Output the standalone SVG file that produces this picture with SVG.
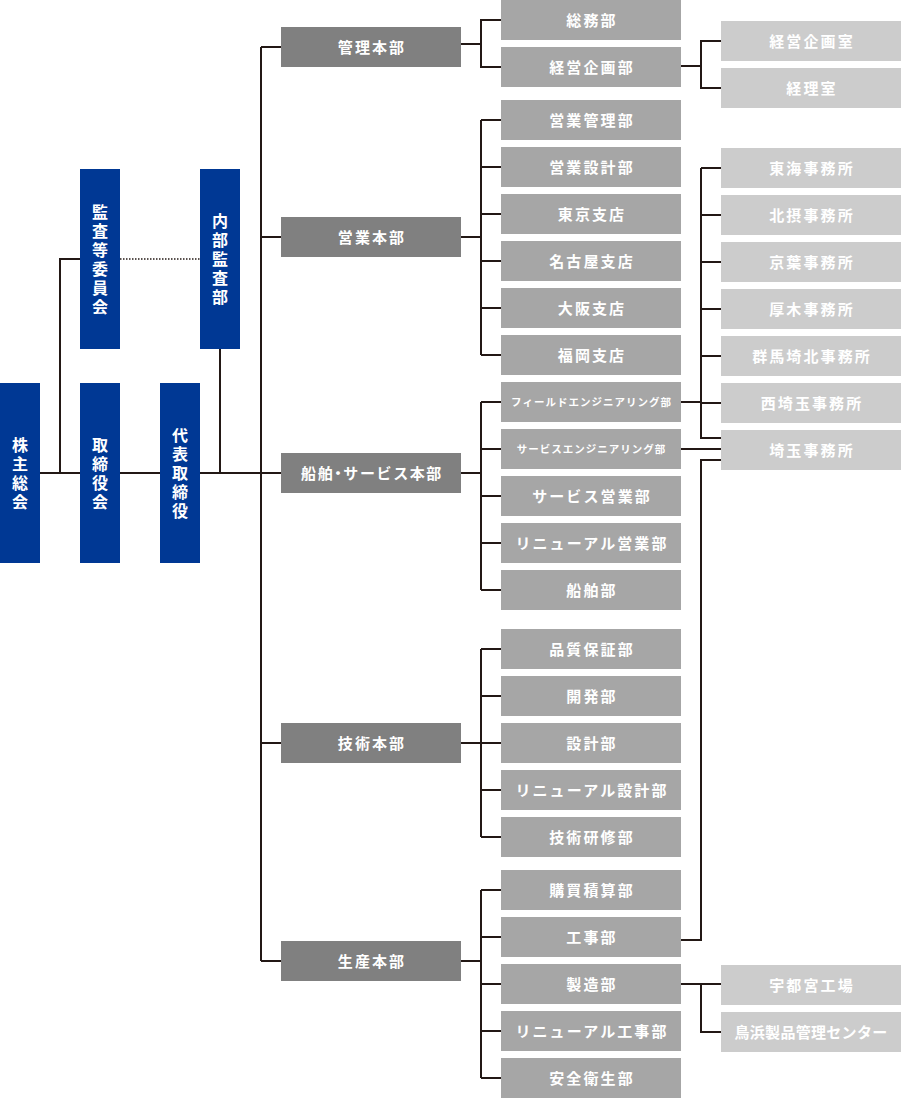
<svg xmlns="http://www.w3.org/2000/svg" width="901" height="1098" viewBox="0 0 901 1098">
<style>
.b{fill:#003894}
.g1{fill:#808080}
.g2{fill:#a6a6a6}
.g3{fill:#cccccc}
.t{fill:#fff;font-family:"Noto Sans CJK JP","Noto Sans",sans-serif;font-size:15px;font-weight:700;letter-spacing:2.1px;text-anchor:middle}
.s{font-size:10.5px;letter-spacing:1px}
.v{writing-mode:vertical-rl;font-size:16px;letter-spacing:3px}
.c{stroke:#231815;stroke-width:2;fill:none}
.d{stroke:#231815;stroke-width:1.5;stroke-dasharray:1.5 1.5;fill:none}
</style>
<g id="connectors">
<path class="c" d="M40 473H80M120 473H160M200 473H281M60 473V259H80M220 349V473"/>
<path class="d" d="M120 259H200"/>
<path class="c" d="M261 47V961M261 47H281M261 237H281M261 743H281M261 961H281"/>
<path class="c" d="M461 44H481M501 20H481V67H501"/>
<path class="c" d="M461 237H481M481 120V355M481 120H501M481 167H501M481 214H501M481 261H501M481 308H501M481 355H501"/>
<path class="c" d="M461 473H481M481 402V590M481 402H501M481 449H501M481 496H501M481 543H501M481 590H501"/>
<path class="c" d="M461 743H481M481 649V837M481 649H501M481 696H501M481 743H501M481 790H501M481 837H501"/>
<path class="c" d="M461 961H481M481 890V1078M481 890H501M481 937H501M481 984H501M481 1031H501M481 1078H501"/>
<path class="c" d="M681 66H701M721 41H701V88H721"/>
<path class="c" d="M701 168V438H721M701 168H721M701 215H721M701 262H721M701 309H721M701 356H721M701 403H721M681 402H701"/>
<path class="c" d="M681 449H721"/>
<path class="c" d="M681 940H701V460H721"/>
<path class="c" d="M681 984H721M701 984V1032H721"/>
</g>
<g id="n-kabunushi"><rect class="b" x="0" y="383" width="40" height="180"/><text class="t v" x="20" y="474.5">株主総会</text></g>
<g id="n-torishimariyakukai"><rect class="b" x="80" y="383" width="40" height="180"/><text class="t v" x="100" y="474.5">取締役会</text></g>
<g id="n-daihyo"><rect class="b" x="160" y="383" width="40" height="180"/><text class="t v" x="180" y="474.5">代表取締役</text></g>
<g id="n-kansa"><rect class="b" x="80" y="169" width="40" height="180"/><text class="t v" x="100" y="260.5">監査等委員会</text></g>
<g id="n-naibu"><rect class="b" x="200" y="169" width="40" height="180"/><text class="t v" x="220" y="260.5">内部監査部</text></g>

<g id="n-kanri"><rect class="g1" x="281" y="27" width="180" height="40"/><text class="t" x="372" y="52.5">管理本部</text></g>
<g id="n-eigyo"><rect class="g1" x="281" y="217" width="180" height="40"/><text class="t" x="372" y="242.5">営業本部</text></g>
<g id="n-senpaku"><rect class="g1" x="281" y="453" width="180" height="40"/><text class="t" x="372" y="478.5" style="letter-spacing:1.6px">船舶<tspan style="font-feature-settings:'halt'">・</tspan>サービス本部</text></g>
<g id="n-gijutsu"><rect class="g1" x="281" y="723" width="180" height="40"/><text class="t" x="372" y="748.5">技術本部</text></g>
<g id="n-seisan"><rect class="g1" x="281" y="941" width="180" height="40"/><text class="t" x="372" y="966.5">生産本部</text></g>

<g id="n-somu"><rect class="g2" x="501" y="0" width="180" height="40"/><text class="t" x="592" y="25.5">総務部</text></g>
<g id="n-keiei"><rect class="g2" x="501" y="47" width="180" height="40"/><text class="t" x="592" y="72.5">経営企画部</text></g>
<g id="n-eigyokanri"><rect class="g2" x="501" y="100" width="180" height="40"/><text class="t" x="592" y="125.5">営業管理部</text></g>
<g id="n-eigyosekkei"><rect class="g2" x="501" y="147" width="180" height="40"/><text class="t" x="592" y="172.5">営業設計部</text></g>
<g id="n-tokyo"><rect class="g2" x="501" y="194" width="180" height="40"/><text class="t" x="592" y="219.5">東京支店</text></g>
<g id="n-nagoya"><rect class="g2" x="501" y="241" width="180" height="40"/><text class="t" x="592" y="266.5">名古屋支店</text></g>
<g id="n-osaka"><rect class="g2" x="501" y="288" width="180" height="40"/><text class="t" x="592" y="313.5">大阪支店</text></g>
<g id="n-fukuoka"><rect class="g2" x="501" y="335" width="180" height="40"/><text class="t" x="592" y="360.5">福岡支店</text></g>
<g id="n-field"><rect class="g2" x="501" y="382" width="180" height="40"/><text class="t s" x="591.5" y="406">フィールドエンジニアリング部</text></g>
<g id="n-service-eng"><rect class="g2" x="501" y="429" width="180" height="40"/><text class="t s" x="591.5" y="453">サービスエンジニアリング部</text></g>
<g id="n-service-eigyo"><rect class="g2" x="501" y="476" width="180" height="40"/><text class="t" x="592" y="501.5">サービス営業部</text></g>
<g id="n-renewal-eigyo"><rect class="g2" x="501" y="523" width="180" height="40"/><text class="t" x="592" y="548.5">リニューアル営業部</text></g>
<g id="n-senpakubu"><rect class="g2" x="501" y="570" width="180" height="40"/><text class="t" x="592" y="595.5">船舶部</text></g>
<g id="n-hinshitsu"><rect class="g2" x="501" y="629" width="180" height="40"/><text class="t" x="592" y="654.5">品質保証部</text></g>
<g id="n-kaihatsu"><rect class="g2" x="501" y="676" width="180" height="40"/><text class="t" x="592" y="701.5">開発部</text></g>
<g id="n-sekkei"><rect class="g2" x="501" y="723" width="180" height="40"/><text class="t" x="592" y="748.5">設計部</text></g>
<g id="n-renewal-sekkei"><rect class="g2" x="501" y="770" width="180" height="40"/><text class="t" x="592" y="795.5">リニューアル設計部</text></g>
<g id="n-kenshu"><rect class="g2" x="501" y="817" width="180" height="40"/><text class="t" x="592" y="842.5">技術研修部</text></g>
<g id="n-kobai"><rect class="g2" x="501" y="870" width="180" height="40"/><text class="t" x="592" y="895.5">購買積算部</text></g>
<g id="n-koji"><rect class="g2" x="501" y="917" width="180" height="40"/><text class="t" x="592" y="942.5">工事部</text></g>
<g id="n-seizo"><rect class="g2" x="501" y="964" width="180" height="40"/><text class="t" x="592" y="989.5">製造部</text></g>
<g id="n-renewal-koji"><rect class="g2" x="501" y="1011" width="180" height="40"/><text class="t" x="592" y="1036.5">リニューアル工事部</text></g>
<g id="n-anzen"><rect class="g2" x="501" y="1058" width="180" height="40"/><text class="t" x="592" y="1083.5">安全衛生部</text></g>

<g id="n-keieishitsu"><rect class="g3" x="721" y="21" width="180" height="40"/><text class="t" x="812" y="46.5">経営企画室</text></g>
<g id="n-keiri"><rect class="g3" x="721" y="68" width="180" height="40"/><text class="t" x="812" y="93.5">経理室</text></g>
<g id="n-tokai"><rect class="g3" x="721" y="148" width="180" height="40"/><text class="t" x="812" y="173.5">東海事務所</text></g>
<g id="n-hokusetsu"><rect class="g3" x="721" y="195" width="180" height="40"/><text class="t" x="812" y="220.5">北摂事務所</text></g>
<g id="n-keiyo"><rect class="g3" x="721" y="242" width="180" height="40"/><text class="t" x="812" y="267.5">京葉事務所</text></g>
<g id="n-atsugi"><rect class="g3" x="721" y="289" width="180" height="40"/><text class="t" x="812" y="314.5">厚木事務所</text></g>
<g id="n-gunma"><rect class="g3" x="721" y="336" width="180" height="40"/><text class="t" x="812" y="361.5">群馬埼北事務所</text></g>
<g id="n-nishisaitama"><rect class="g3" x="721" y="383" width="180" height="40"/><text class="t" x="812" y="408.5">西埼玉事務所</text></g>
<g id="n-saitama"><rect class="g3" x="721" y="430" width="180" height="40"/><text class="t" x="812" y="455.5">埼玉事務所</text></g>
<g id="n-utsunomiya"><rect class="g3" x="721" y="965" width="180" height="40"/><text class="t" x="812" y="990.5">宇都宮工場</text></g>
<g id="n-torihama"><rect class="g3" x="721" y="1012" width="180" height="40"/><text class="t" x="811" y="1037.5" style="letter-spacing:0.3px">鳥浜製品管理センター</text></g>
</svg>
